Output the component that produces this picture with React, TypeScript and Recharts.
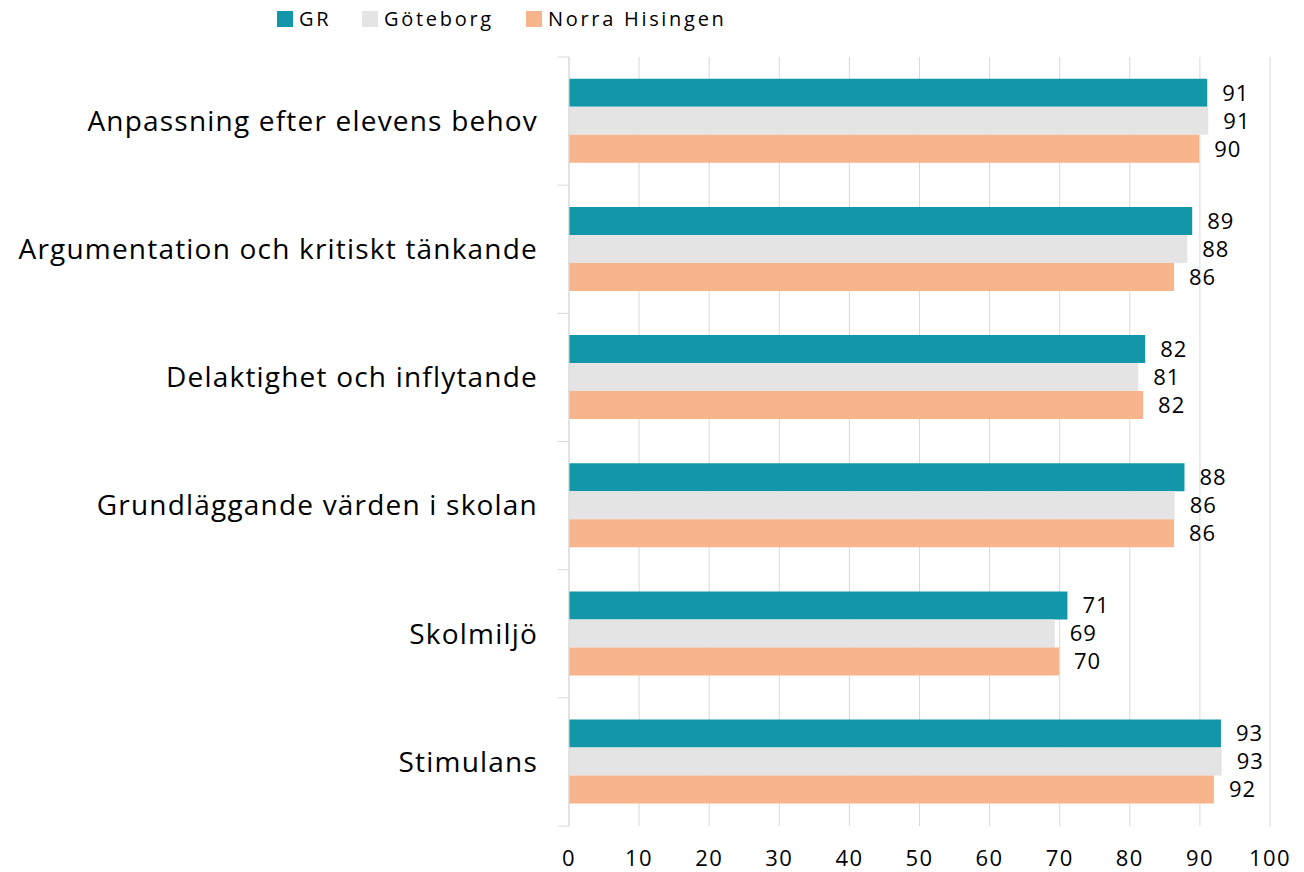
import { BarChart, Bar, XAxis, YAxis, CartesianGrid, LabelList } from 'recharts';

const categories = [
  'Anpassning efter elevens behov',
  'Argumentation och kritiskt tänkande',
  'Delaktighet och inflytande',
  'Grundläggande värden i skolan',
  'Skolmiljö',
  'Stimulans',
];
const grValues = [91.05, 88.9, 82.2, 87.8, 71.1, 93.0];
const goteborgValues = [91.2, 88.2, 81.2, 86.4, 69.3, 93.1];
const norraHisingenValues = [89.9, 86.3, 81.9, 86.3, 69.9, 92.0];
const xTicks = [0, 10, 20, 30, 40, 50, 60, 70, 80, 90, 100];

const series = [
  { key: 'gr', name: 'GR', color: '#1297a9', legendX: 277 },
  { key: 'goteborg', name: 'Göteborg', color: '#e4e4e4', legendX: 362 },
  { key: 'norra', name: 'Norra Hisingen', color: '#f8b48c', legendX: 526 },
];

const data = categories.map((name, i) => ({
  name,
  gr: grValues[i],
  goteborg: goteborgValues[i],
  norra: norraHisingenValues[i],
}));

const FONT = '"Open Sans", sans-serif';
const W = 1304;
const H = 872;
const X_AXIS_H = 46;
const MARGIN = { top: 57, right: 34, bottom: 0, left: 0 };
const BAND = (H - MARGIN.top - MARGIN.bottom - X_AXIS_H) / categories.length;

// category label + Excel-style ticks at band boundaries
const CategoryTick = (props: any) => {
  const { x, y, payload, index } = props;
  const ax = x + 8;
  const last = index === categories.length - 1;
  return (
    <g>
      <line x1={ax - 11} x2={ax} y1={y - BAND / 2} y2={y - BAND / 2} stroke="#d9d9d9" />
      {last && <line x1={ax - 11} x2={ax} y1={y + BAND / 2} y2={y + BAND / 2} stroke="#d9d9d9" />}
      <text x={ax - 31} y={y} dy="0.35em" textAnchor="end" fontSize={28} fill="#000" fontFamily={FONT} letterSpacing={1.2}>
        {payload.value}
      </text>
    </g>
  );
};

export default function App() {
  return (
    <div style={{ position: 'absolute', left: 0, top: 0, width: W, height: H, background: '#fff', fontFamily: FONT }}>
      {series.map((s) => (
        <div
          key={s.key}
          style={{ position: 'absolute', left: s.legendX, top: 5, display: 'flex', alignItems: 'center', fontSize: 20, letterSpacing: 2.7, color: '#000', whiteSpace: 'nowrap' }}
        >
          <span style={{ width: 16, height: 16, background: s.color, display: 'inline-block', marginRight: 6 }} />
          <span>{s.name}</span>
        </div>
      ))}
      <BarChart width={W} height={H} data={data} layout="vertical" margin={MARGIN} barCategoryGap="17%" barGap={0}>
        <CartesianGrid horizontal={false} stroke="#d9d9d9" />
        <XAxis
          type="number"
          domain={[0, 100]}
          ticks={xTicks}
          height={X_AXIS_H}
          axisLine={false}
          tickLine={false}
          tickMargin={18}
          tick={{ fontSize: 22, fill: '#000', fontFamily: FONT, letterSpacing: 1.4 }}
        />
        <YAxis
          type="category"
          dataKey="name"
          width={569}
          axisLine={{ stroke: '#d9d9d9' }}
          tickLine={false}
          tick={<CategoryTick />}
          interval={0}
        />
        {series.map((s) => (
          <Bar key={s.key} dataKey={s.key} name={s.name} fill={s.color} isAnimationActive={false}>
            <LabelList
              dataKey={s.key}
              position="right"
              offset={15}
              formatter={(v: any) => Math.round(Number(v))}
              style={{ fontSize: 22, fill: '#000', fontFamily: FONT, letterSpacing: 1 }}
            />
          </Bar>
        ))}
      </BarChart>
    </div>
  );
}
